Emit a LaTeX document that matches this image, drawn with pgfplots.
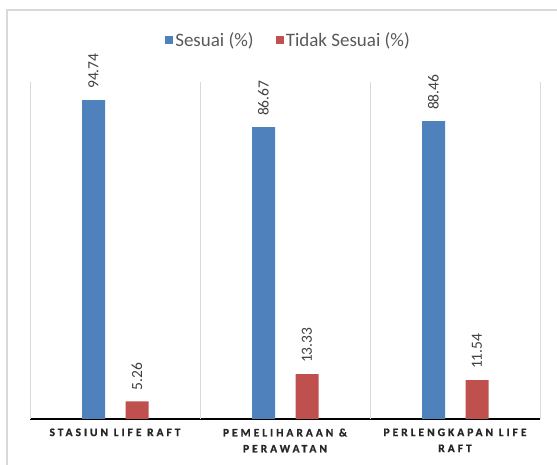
\documentclass[border=0pt]{standalone}
\usepackage{fontspec}
\setmainfont{Carlito}
\usepackage{pgfplots}
\pgfplotsset{compat=1.18}
\definecolor{cblue}{HTML}{4F81BD}
\definecolor{cred}{HTML}{C0504D}
\definecolor{sep}{HTML}{D9D9D9}
\definecolor{lab}{HTML}{404040}
\definecolor{cat}{HTML}{262626}
\definecolor{leg}{HTML}{595959}
\begin{document}
\begin{tikzpicture}[x=1pt,y=1pt]
\useasboundingbox (0,0) rectangle (557,465);
\draw[sep, line width=1.5pt] (7,-5) -- (7,455) -- (570,455);
\begin{axis}[
  at={(30pt,46pt)}, anchor=south west,
  scale only axis, width=510pt, height=336.7pt,
  xmin=-0.5, xmax=2.5, ymin=0, ymax=100,
  axis x line*=bottom, axis y line=none,
  x axis line style={-, black, line width=1.3pt},
  xtick={0,1,2},
  xticklabels={STASIUN LIFE RAFT, {PEMELIHARAAN \&\\PERAWATAN}, {PERLENGKAPAN LIFE\\RAFT}},
  xticklabel style={align=center, text=cat, font=\bfseries\fontsize{11.5}{16}\selectfont\addfontfeature{LetterSpace=26,FakeBold=1}, yshift=-6pt},
  major tick length=0pt,
  extra x ticks={-0.5,0.5,1.5,2.5},
  extra x tick labels={},
  extra x tick style={grid=major, major grid style={sep, line width=1pt}},
  /pgf/number format/assume math mode=true,
  nodes near coords={\rotatebox{90}{\pgfmathprintnumber[fixed,fixed zerofill,precision=2]{\pgfplotspointmeta}}},
  every node near coord/.append style={anchor=south, inner sep=0pt, yshift=11pt, text=lab, font=\fontsize{15.5}{17}\selectfont},
  legend columns=2,
  legend style={at={(0.507,1.126)}, anchor=center, draw=none, fill=none, text=leg, font=\fontsize{19}{21}\selectfont,
    /tikz/every even column/.append style={column sep=20pt}},
  legend cell align=left,
  clip=false,
]
\addplot[ybar, bar width=23pt, bar shift=-21.5pt, fill=cblue, draw=none,
  every node near coord/.append style={xshift=-21.5pt},
  legend image code/.code={\fill[cblue] (0pt,-4pt) rectangle (8pt,4pt);}]
  coordinates {(0,94.74) (1,86.67) (2,88.46)};
\addlegendentry{Sesuai (\%)}
\addplot[ybar, bar width=23pt, bar shift=22pt, fill=cred, draw=none,
  every node near coord/.append style={xshift=22pt},
  legend image code/.code={\fill[cred] (0pt,-4pt) rectangle (8pt,4pt);}]
  coordinates {(0,5.26) (1,13.33) (2,11.54)};
\addlegendentry{Tidak Sesuai (\%)}
\end{axis}
\end{tikzpicture}
\end{document}
